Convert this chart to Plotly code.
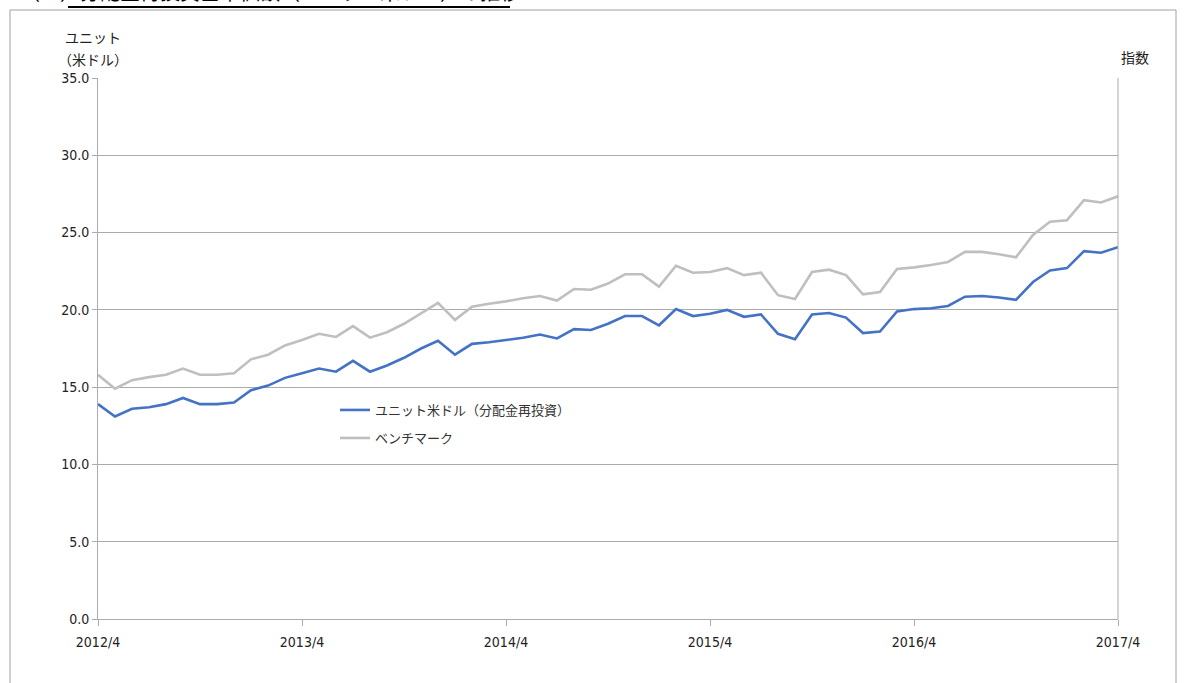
import plotly.graph_objects as go

# ---- data ----
months = [f"{2012 + (3 + i) // 12}/{(3 + i) % 12 + 1}" for i in range(61)]
tick_labels = ["2012/4", "2013/4", "2014/4", "2015/4", "2016/4", "2017/4"]

unit_usd = [13.9, 13.1, 13.6, 13.7, 13.9, 14.3, 13.9, 13.9, 14.0, 14.8,
            15.1, 15.6, 15.9, 16.2, 16.0, 16.7, 16.0, 16.4, 16.9, 17.5,
            18.0, 17.1, 17.8, 17.9, 18.05, 18.2, 18.4, 18.15, 18.75, 18.7,
            19.1, 19.6, 19.6, 19.0, 20.05, 19.6, 19.75, 20.0, 19.55, 19.7,
            18.45, 18.1, 19.7, 19.8, 19.5, 18.5, 18.6, 19.9, 20.05, 20.1,
            20.25, 20.85, 20.9, 20.8, 20.65, 21.8, 22.55, 22.7, 23.8, 23.7,
            24.05]
benchmark = [15.8, 14.9, 15.45, 15.65, 15.8, 16.2, 15.8, 15.8, 15.9, 16.8,
             17.1, 17.7, 18.05, 18.45, 18.25, 18.95, 18.2, 18.55, 19.1, 19.8,
             20.45, 19.35, 20.2, 20.4, 20.55, 20.75, 20.9, 20.6, 21.35, 21.3,
             21.7, 22.3, 22.3, 21.5, 22.85, 22.4, 22.45, 22.7, 22.25, 22.4,
             20.95, 20.7, 22.45, 22.6, 22.25, 21.0, 21.15, 22.65, 22.75, 22.9,
             23.1, 23.75, 23.75, 23.6, 23.4, 24.85, 25.7, 25.8, 27.1, 26.95,
             27.35]
series_names = ["ユニット米ドル（分配金再投資）", "ベンチマーク"]

W, H = 1195, 683
L, R, T, B = 98, 1118, 78, 619

def px_x(p):
    return (p - L) / (R - L)

def px_y(p):
    return (B - p) / (B - T)

JP = "Noto Sans CJK JP, sans-serif"
NUM = "Liberation Sans Narrow, DejaVu Sans Condensed, Arial, sans-serif"
GRID = "#ABABAB"

fig = go.Figure()
fig.add_trace(go.Scatter(x=months, y=unit_usd, mode="lines", name=series_names[0],
                         line=dict(color="#4472C4", width=2.6), legend="legend",
                         showlegend=True))
fig.add_trace(go.Scatter(x=months, y=benchmark, mode="lines", name=series_names[1],
                         line=dict(color="#BFBFBF", width=2.6), legend="legend2",
                         showlegend=True))

fig.update_layout(
    width=W, height=H, showlegend=True,
    margin=dict(l=L, r=W - R, t=T, b=H - B),
    paper_bgcolor="white", plot_bgcolor="white",
    font=dict(family=JP, size=13, color="#222"),
    legend=dict(x=px_x(335), y=px_y(410), xanchor="left", yanchor="middle",
                bgcolor="rgba(0,0,0,0)", font=dict(family=JP, size=13, color="#333")),
    legend2=dict(x=px_x(335), y=px_y(438), xanchor="left", yanchor="middle",
                 bgcolor="rgba(0,0,0,0)", font=dict(family=JP, size=13, color="#333")),
    xaxis=dict(type="category", range=[0, 60], tickmode="array",
               tickvals=tick_labels, ticktext=tick_labels,
               showgrid=False, showline=True, linecolor=GRID, linewidth=1,
               ticks="outside", ticklen=6, tickcolor=GRID,
               tickfont=dict(family=NUM, size=14, color="#222"),
               ticklabelstandoff=4, zeroline=False),
    yaxis=dict(range=[0, 35], dtick=5, tickformat=".1f",
               showgrid=True, gridcolor=GRID, gridwidth=1,
               showline=True, linecolor=GRID, linewidth=1,
               ticks="outside", ticklen=5, tickcolor=GRID,
               tickfont=dict(family=NUM, size=14, color="#222"),
               zeroline=False),
)

# right axis line
fig.add_shape(type="line", xref="paper", yref="paper", x0=1, x1=1, y0=0, y1=1,
              line=dict(color=GRID, width=1))
# outer frame
fig.add_shape(type="rect", xref="paper", yref="paper",
              x0=px_x(10), x1=px_x(1176), y0=px_y(10), y1=px_y(720),
              line=dict(color="#A0A0A0", width=1), layer="below")

# title (cut off at top of the picture, as in the source) and underline
fig.add_annotation(xref="paper", yref="paper", x=px_x(18), y=px_y(-8),
                   xanchor="left", yanchor="middle", showarrow=False,
                   text="（２）分配金再投資基準価額（ユニット米ドル）の推移",
                   font=dict(family=JP, size=20, color="#000"))
fig.add_shape(type="line", xref="paper", yref="paper",
              x0=px_x(68), x1=px_x(510), y0=px_y(7), y1=px_y(7),
              line=dict(color="#000", width=2))

# axis titles
fig.add_annotation(xref="paper", yref="paper", x=px_x(93), y=px_y(37),
                   xanchor="center", yanchor="middle", showarrow=False,
                   text="ユニット", font=dict(family=JP, size=14, color="#222"))
fig.add_annotation(xref="paper", yref="paper", x=px_x(93), y=px_y(59),
                   xanchor="center", yanchor="middle", showarrow=False,
                   text="（米ドル）", font=dict(family=JP, size=14, color="#222"))
fig.add_annotation(xref="paper", yref="paper", x=px_x(1135), y=px_y(57),
                   xanchor="center", yanchor="middle", showarrow=False,
                   text="指数", font=dict(family=JP, size=14, color="#222"))

fig.write_html("out.html", config={"displayModeBar": False},
               post_script="document.body.style.margin='0';")
